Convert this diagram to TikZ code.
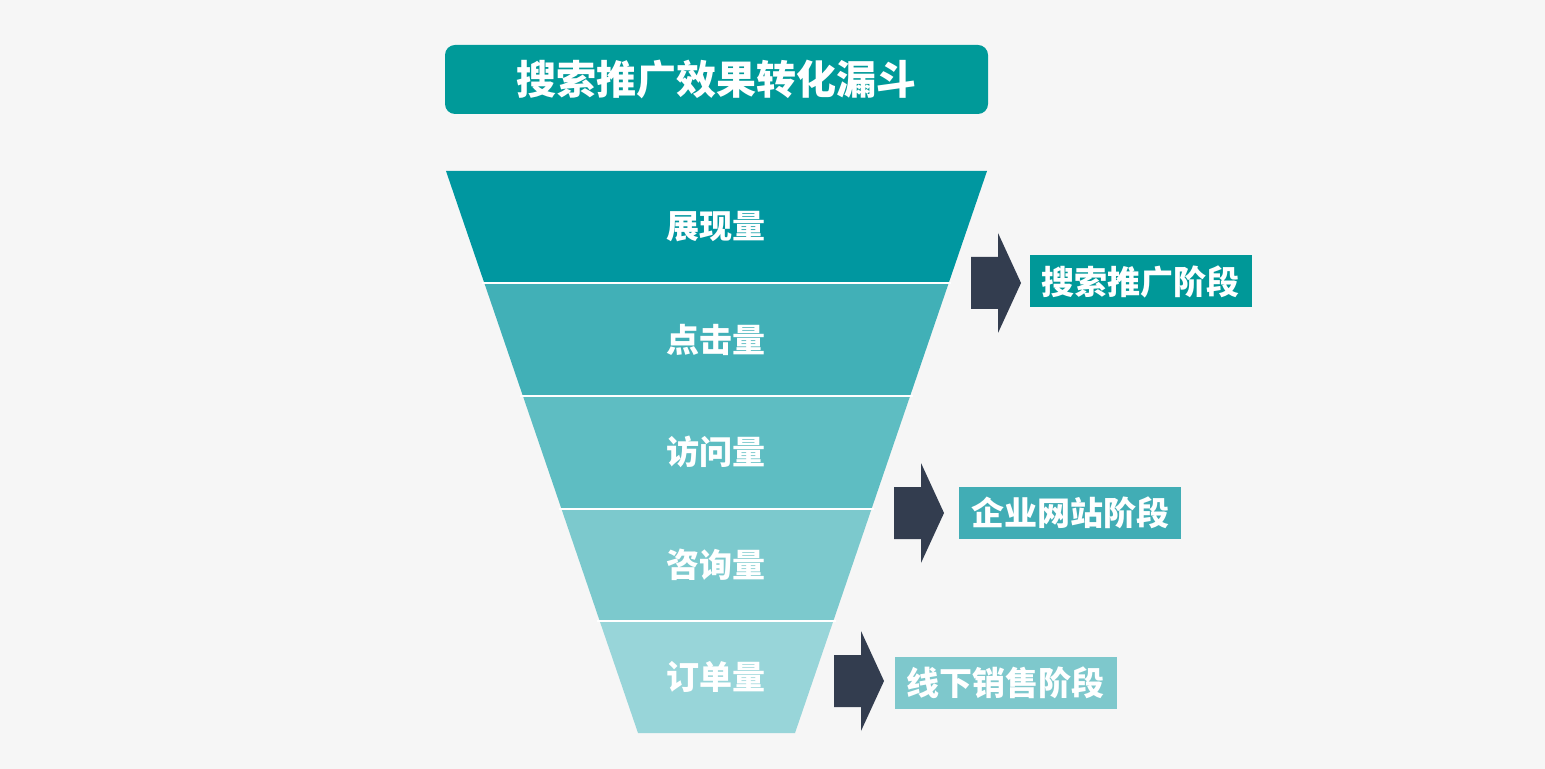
\documentclass[tikz,border=0pt]{standalone}
\usepackage{fontspec}
\newfontfamily\cjk{Noto Sans CJK SC}
\definecolor{bgc}{RGB}{246,246,246}
\definecolor{c1}{RGB}{0,151,160}
\definecolor{c2}{RGB}{65,176,183}
\definecolor{c3}{RGB}{94,189,194}
\definecolor{c4}{RGB}{124,201,205}
\definecolor{c5}{RGB}{152,213,217}
\definecolor{titlec}{RGB}{0,154,153}
\definecolor{s1}{RGB}{0,152,152}
\definecolor{s2}{RGB}{65,173,181}
\definecolor{s3}{RGB}{126,200,204}
\definecolor{arrowc}{RGB}{51,61,79}
\begin{document}
\begin{tikzpicture}[x=0.5pt,y=-0.5pt,
  bandtext/.style={text=white,font=\cjk\bfseries\fontsize{16.5pt}{18pt}\selectfont,inner sep=0pt},
  stagebox/.style={text=white,font=\cjk\bfseries\fontsize{16.5pt}{18pt}\selectfont,inner sep=0pt,minimum width=111pt,minimum height=26pt},
  sep/.style={white,line width=1.2pt},
  blockarrow/.pic={\fill[arrowc] (0,-26)--(27,-26)--(27,-50)--(50,0)--(27,50)--(27,26)--(0,26)--cycle;}
]
\useasboundingbox (0,0) rectangle (1545,769);
\fill[bgc] (0,0) rectangle (1545,769);

% title
\node[fill=titlec,rounded corners=5pt,minimum width=271.5pt,minimum height=34.5pt,inner sep=0pt,
  text=white,font=\cjk\bfseries\fontsize{20pt}{22pt}\selectfont] (title) at (716.5,79.5) {搜索推广效果转化漏斗};

% funnel bands
\fill[c1] (446,171) -- (987,171) -- (948.7,283) -- (484.3,283) -- cycle;
\fill[c2] (484.3,283) -- (948.7,283) -- (910.1,396) -- (522.9,396) -- cycle;
\fill[c3] (522.9,396) -- (910.1,396) -- (871.5,509) -- (561.5,509) -- cycle;
\fill[c4] (561.5,509) -- (871.5,509) -- (833.3,621) -- (599.7,621) -- cycle;
\fill[c5] (599.7,621) -- (833.3,621) -- (795,733) -- (638,733) -- cycle;
\draw[sep] (482,283) -- (951,283);
\draw[sep] (520,396) -- (913,396);
\draw[sep] (559,509) -- (874,509);
\draw[sep] (597,621) -- (836,621);

\node[bandtext] (b1) at (716,227) {展现量};
\node[bandtext] (b2) at (716,340) {点击量};
\node[bandtext] (b3) at (716,452) {访问量};
\node[bandtext] (b4) at (716,565) {咨询量};
\node[bandtext] (b5) at (716,677) {订单量};

% arrows
\pic at (971,283) {blockarrow};
\pic at (894,513) {blockarrow};
\pic at (834,681) {blockarrow};

% stage labels
\node[stagebox,fill=s1] (st1) at (1140.5,281.5) {搜索推广阶段};
\node[stagebox,fill=s2] (st2) at (1070,512.5) {企业网站阶段};
\node[stagebox,fill=s3] (st3) at (1005.5,683) {线下销售阶段};
\end{tikzpicture}
\end{document}
